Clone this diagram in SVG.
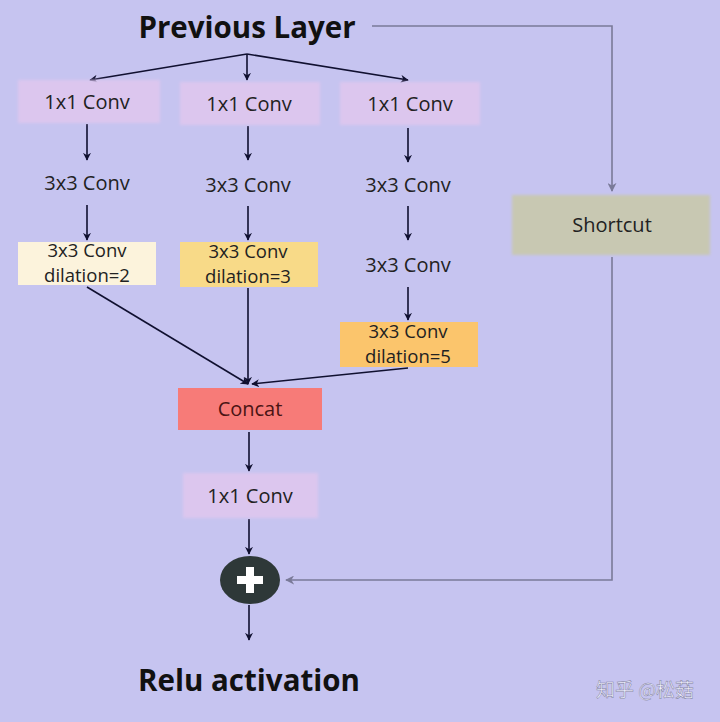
<svg xmlns="http://www.w3.org/2000/svg" width="720" height="722" viewBox="0 0 720 722">
<defs>
<style>
.lbl{font-family:"Open Sans","Noto Sans","Liberation Sans",sans-serif;font-size:20px;fill:#222;text-anchor:middle}
.sm{font-size:18.5px}
.title{font-family:"Open Sans","Noto Sans","Liberation Sans",sans-serif;font-size:29.5px;font-weight:bold;fill:#111;text-anchor:middle}
.ln{stroke:#101030;stroke-width:1.6;fill:none;marker-end:url(#ah)}
.gl{stroke:#7a7a98;stroke-width:1.6;fill:none}
.pink{fill:#dcc6ee}
</style>
<marker id="ah" viewBox="0 0 10 10" refX="9" refY="5" markerWidth="8" markerHeight="8" orient="auto" markerUnits="userSpaceOnUse"><path d="M0,0 L10,5 L0,10 L3,5 z" fill="#101030"/></marker>
<marker id="ahg" viewBox="0 0 10 10" refX="9" refY="5" markerWidth="9" markerHeight="9" orient="auto" markerUnits="userSpaceOnUse"><path d="M0,0 L10,5 L0,10 L3,5 z" fill="#7a7a98"/></marker>
<filter id="soft" x="-10%" y="-20%" width="120%" height="140%"><feGaussianBlur stdDeviation="1.5"/></filter>
</defs>
<rect width="720" height="722" fill="#c6c4f0"/>

<g id="connectors">
<line class="ln" x1="247" y1="54" x2="90" y2="80"/>
<line class="ln" x1="247" y1="54" x2="247" y2="80"/>
<line class="ln" x1="247" y1="54" x2="408" y2="80"/>
<line class="ln" x1="87" y1="124" x2="87" y2="160"/>
<line class="ln" x1="248" y1="126" x2="248" y2="160"/>
<line class="ln" x1="408" y1="128" x2="408" y2="162"/>
<line class="ln" x1="87" y1="205" x2="87" y2="240"/>
<line class="ln" x1="248" y1="206" x2="248" y2="240"/>
<line class="ln" x1="408" y1="206" x2="408" y2="240"/>
<line class="ln" x1="408" y1="287" x2="408" y2="320"/>
<line class="ln" x1="87" y1="287" x2="248" y2="384"/>
<line class="ln" x1="248" y1="288" x2="248" y2="384"/>
<line class="ln" x1="408" y1="368" x2="252" y2="384"/>
<line class="ln" x1="249" y1="432" x2="249" y2="471"/>
<line class="ln" x1="249" y1="519" x2="249" y2="554"/>
<line class="ln" x1="249" y1="605" x2="249" y2="640"/>
<polyline class="gl" points="372,26 612,26 612,191" marker-end="url(#ahg)"/>
<polyline class="gl" points="612,257 612,580 286,580" marker-end="url(#ahg)"/>
</g>

<g id="prev"><text class="title" x="247" y="38">Previous Layer</text></g>

<g id="c11a"><rect class="pink" x="18" y="80" width="142" height="43" filter="url(#soft)"/><text class="lbl" x="87" y="109">1x1 Conv</text></g>
<g id="c11b"><rect class="pink" x="180" y="82" width="140" height="43" filter="url(#soft)"/><text class="lbl" x="249" y="111">1x1 Conv</text></g>
<g id="c11c"><rect class="pink" x="340" y="82" width="140" height="43" filter="url(#soft)"/><text class="lbl" x="410" y="111">1x1 Conv</text></g>

<g id="c33a"><text class="lbl" x="87" y="190">3x3 Conv</text></g>
<g id="c33b"><text class="lbl" x="248" y="192">3x3 Conv</text></g>
<g id="c33c"><text class="lbl" x="408" y="192">3x3 Conv</text></g>
<g id="c33c2"><text class="lbl" x="408" y="272">3x3 Conv</text></g>

<g id="d2"><rect x="18" y="242" width="138" height="43" fill="#fcf3dc"/><text class="lbl sm" x="87" y="257">3x3 Conv</text><text class="lbl sm" x="87" y="282">dilation=2</text></g>
<g id="d3"><rect x="180" y="242" width="138" height="45" fill="#f8da88"/><text class="lbl sm" x="248" y="258">3x3 Conv</text><text class="lbl sm" x="248" y="283">dilation=3</text></g>
<g id="d5"><rect x="340" y="322" width="138" height="45" fill="#fbc56c"/><text class="lbl sm" x="408" y="338">3x3 Conv</text><text class="lbl sm" x="408" y="363">dilation=5</text></g>

<g id="shortcut"><rect x="512" y="195" width="198" height="60" fill="#c8c8b2" filter="url(#soft)"/><text class="lbl" x="612" y="232">Shortcut</text></g>

<g id="concat"><rect x="178" y="388" width="144" height="42" fill="#f77b78"/><text class="lbl" x="250" y="416" style="fill:#4a1414">Concat</text></g>

<g id="c11d"><rect class="pink" x="183" y="473" width="135" height="45" filter="url(#soft)"/><text class="lbl" x="250" y="503">1x1 Conv</text></g>

<g id="add"><ellipse cx="250" cy="580" rx="30" ry="24" fill="#2e3838"/><rect x="237" y="576" width="26" height="8" fill="#fff"/><rect x="246" y="567" width="8" height="26" fill="#fff"/></g>

<g id="relu"><text class="title" x="249" y="691">Relu activation</text></g>

<text x="645" y="697" font-family="'Noto Sans CJK SC',sans-serif" font-size="19" fill="#f2f2ff" text-anchor="middle" stroke="#8080a0" stroke-width="0.5">知乎 @松菇</text>
</svg>
